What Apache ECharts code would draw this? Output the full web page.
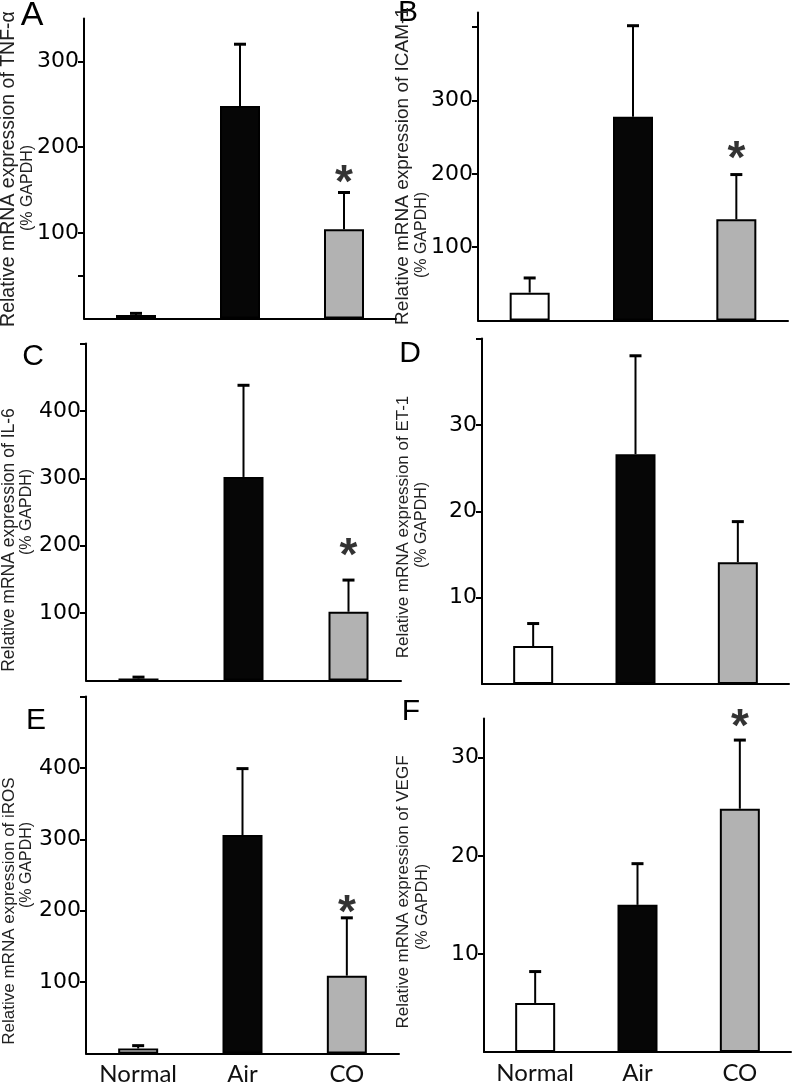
<!DOCTYPE html>
<html>
<head>
<meta charset="utf-8">
<script src="https://cdn.jsdelivr.net/npm/echarts@6/dist/echarts.min.js"></script>
<style>
html,body{margin:0;padding:0;background:#fff;}
#chart{width:797px;height:1087px;}
</style>
</head>
<body>
<div id="chart"></div>
<script>
// ---- data ----
const categories = ['Normal', 'Air', 'CO'];

const tnfMean = [4, 248, 104];
const tnfErr = [2, 72, 43];
const tnfSig = [null, null, 173];
const tnfTicks = [50, 100, 200, 300];
const tnfLabels = [100, 200, 300];

const icamMean = [38, 278, 138];
const icamErr = [20, 124, 61];
const icamSig = [null, null, 237];
const icamTicks = [100, 200, 300, 400];
const icamLabels = [100, 200, 300];

const il6Mean = [3, 302, 102];
const il6Err = [2, 136, 47];
const il6Sig = [null, null, 204];
const il6Ticks = [100, 200, 300, 400, 500];
const il6Labels = [100, 200, 300, 400];

const et1Mean = [4.4, 26.6, 14.1];
const et1Err = [2.6, 11.4, 4.7];
const et1Sig = [null, null, null];
const et1Ticks = [10, 20, 30, 40];
const et1Labels = [10, 20, 30];

const irosMean = [7, 306, 109];
const irosErr = [4, 93, 81];
const irosSig = [null, null, 215];
const irosTicks = [100, 200, 300, 400, 500];
const irosLabels = [100, 200, 300, 400];

const vegfMean = [5.0, 15.0, 24.8];
const vegfErr = [3.2, 4.2, 7.0];
const vegfSig = [null, null, 34.4];
const vegfTicks = [10, 20, 30];
const vegfLabels = [10, 20, 30];

// ---- layout / style ----
const barColors = ['#ffffff', '#060606', '#b2b2b2'];
const panels = [
  {letter:'A', lx:32, ly:16, lsize:34, title:'Relative mRNA expression of TNF-\u03b1', tx:9, ty:169, tsize:19.5, sx:28, sy:188,
   grid:{left:84, top:18.5, width:312, height:300}, max:350, mean:tnfMean, err:tnfErr, sig:tnfSig, ticks:tnfTicks, labels:tnfLabels, xl:false},
  {letter:'B', lx:408, ly:13, lsize:30, title:'Relative mRNA expression of ICAM-1', tx:403, ty:166, tsize:19, sx:422, sy:235,
   grid:{left:478, top:12.5, width:310, height:308}, max:420, mean:icamMean, err:icamErr, sig:icamSig, ticks:icamTicks, labels:icamLabels, xl:false},
  {letter:'C', lx:33, ly:357, lsize:30, title:'Relative mRNA expression of IL-6', tx:9, ty:540, tsize:17.5, sx:27, sy:512,
   grid:{left:86, top:343.5, width:315, height:337}, max:500, mean:il6Mean, err:il6Err, sig:il6Sig, ticks:il6Ticks, labels:il6Labels, xl:false},
  {letter:'D', lx:410, ly:354, lsize:30, title:'Relative mRNA expression of ET-1', tx:403, ty:527, tsize:17, sx:422, sy:525,
   grid:{left:482, top:338.5, width:307, height:345.5}, max:40, mean:et1Mean, err:et1Err, sig:et1Sig, ticks:et1Ticks, labels:et1Labels, xl:false},
  {letter:'E', lx:36, ly:721, lsize:30, title:'Relative mRNA expression of iROS', tx:9, ty:911, tsize:17, sx:27, sy:865,
   grid:{left:86, top:696.5, width:313, height:357}, max:500, mean:irosMean, err:irosErr, sig:irosSig, ticks:irosTicks, labels:irosLabels, xl:true},
  {letter:'F', lx:411, ly:712, lsize:30, title:'Relative mRNA expression of VEGF', tx:403, ty:892, tsize:17, sx:423, sy:907,
   grid:{left:484, top:718.5, width:307, height:333.5}, max:34, mean:vegfMean, err:vegfErr, sig:vegfSig, ticks:vegfTicks, labels:vegfLabels, xl:true}
];

const grids = [], xAxes = [], yAxes = [], series = [], graphics = [];
panels.forEach((p, k) => {
  grids.push(Object.assign({containLabel:false, outerBoundsMode:'none'}, p.grid));
  xAxes.push({
    type:'category', gridIndex:k, data:categories, boundaryGap:true,
    axisLine:{show:true, lineStyle:{color:'#000', width:2}},
    axisTick:{show:false},
    axisLabel:{show:p.xl, fontFamily:'Lato', fontSize:24, color:'#111', margin:9},
    splitLine:{show:false}
  });
  yAxes.push({
    type:'value', gridIndex:k, min:0, max:p.max,
    axisLine:{show:true, lineStyle:{color:'#000', width:2}},
    axisTick:{show:true, length:6, lineStyle:{color:'#000', width:2}, customValues:p.ticks},
    axisLabel:{show:true, customValues:p.labels, fontFamily:'DejaVu Sans', fontSize:22, color:'#000', margin:5},
    splitLine:{show:false}
  });
  series.push({
    type:'bar', xAxisIndex:k, yAxisIndex:k, barWidth:40,
    data:p.mean.map((v, i) => ({value:v, itemStyle:{color:barColors[i]}})),
    itemStyle:{borderColor:'#000', borderWidth:2},
    z:3, silent:true
  });
  series.push({
    type:'custom', xAxisIndex:k, yAxisIndex:k, z:2, silent:true, clip:false,
    data:p.mean.map((v, i) => [i, v, v + p.err[i]]),
    renderItem:(params, api) => {
      const b = api.coord([api.value(0), api.value(1)]);
      const t = api.coord([api.value(0), api.value(2)]);
      return {type:'group', children:[
        {type:'line', shape:{x1:b[0], y1:b[1], x2:t[0], y2:t[1]}, style:{stroke:'#000', lineWidth:2}},
        {type:'line', shape:{x1:t[0]-6, y1:t[1], x2:t[0]+6, y2:t[1]}, style:{stroke:'#000', lineWidth:3}}
      ]};
    }
  });
  series.push({
    type:'scatter', xAxisIndex:k, yAxisIndex:k, symbolSize:1, clip:false, silent:true,
    itemStyle:{color:'rgba(0,0,0,0)'},
    data:p.sig.map((v, i) => v == null ? null : [i, v]).filter(d => d),
    label:{show:true, formatter:'*', position:'inside', fontFamily:'Liberation Sans', fontWeight:'bold', fontSize:46, color:'#000', offset:[0, 14]}
  });
  graphics.push({type:'text', x:p.lx, y:p.ly, style:{text:p.letter, fontFamily:'Liberation Sans', fontSize:p.lsize, fill:'#000', align:'center', verticalAlign:'middle'}});
  graphics.push({type:'text', x:p.tx, y:p.ty, rotation:Math.PI/2, style:{text:p.title, fontFamily:'Liberation Sans', fontSize:p.tsize, fill:'#222', align:'center', verticalAlign:'middle'}});
  graphics.push({type:'text', x:p.sx, y:p.sy, rotation:Math.PI/2, style:{text:'(% GAPDH)', fontFamily:'Liberation Sans', fontSize:16, fill:'#222', align:'center', verticalAlign:'middle'}});
});

const chart = echarts.init(document.getElementById('chart'), null, {renderer:'canvas'});
chart.setOption({
  animation:false,
  backgroundColor:'#fff',
  grid:grids, xAxis:xAxes, yAxis:yAxes, series:series, graphic:graphics
});
</script>
</body>
</html>
